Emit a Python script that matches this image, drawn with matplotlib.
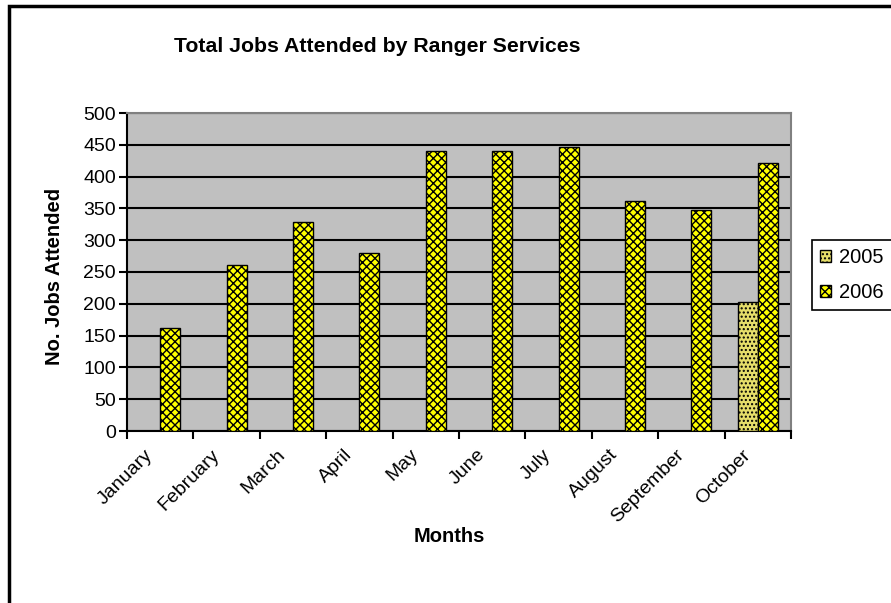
import numpy as np
import matplotlib
matplotlib.use("Agg")
import matplotlib.pyplot as plt
import matplotlib.transforms as mtransforms
from matplotlib.patches import Rectangle, Patch

plt.rcParams['font.family'] = ['Liberation Sans', 'DejaVu Sans']
plt.rcParams['hatch.linewidth'] = 1.0

# datos
months = ['January', 'February', 'March', 'April', 'May', 'June',
          'July', 'August', 'September', 'October']
jobs_2005 = [np.nan, np.nan, np.nan, np.nan, np.nan, np.nan,
             np.nan, np.nan, np.nan, 203]
jobs_2006 = [162, 261, 329, 280, 440, 440, 447, 362, 347, 421]
yticks = list(range(0, 501, 50))

fig = plt.figure(figsize=(8.91, 6.03), dpi=100)
ax = fig.add_axes([127/891, 1-431/603, (791-127)/891, (431-113)/603])
ax.set_facecolor('#C0C0C0')

x = np.arange(len(months))
w = 0.30
b1 = ax.bar(x - w/2, jobs_2005, w, facecolor='#E6DE6A', edgecolor='black',
            hatch='....', linewidth=1, zorder=3)
b2 = ax.bar(x + w/2, jobs_2006, w, facecolor='#FFFF00', edgecolor='black',
            hatch='xxxx', linewidth=1, zorder=3)

ax.set_ylim(0, 500)
ax.set_xlim(-0.5, len(months) - 0.5)
ax.set_yticks(yticks)
ax.yaxis.grid(True, color='black', linewidth=1.5, zorder=1)
ax.set_axisbelow(True)

# ticks en los limites de categoria, etiquetas en el centro
ax.set_xticks(np.arange(-0.5, len(months)), [''] * (len(months) + 1))
ax.set_xticks(x, months, minor=True, rotation=45, ha='right',
              rotation_mode='anchor', fontsize=14)
ax.tick_params(axis='x', which='minor', length=0, pad=11)
ax.tick_params(axis='x', which='major', length=6, width=1.5, direction='out')
ax.tick_params(axis='y', length=6, width=1.5, labelsize=14, pad=2)

# mover etiquetas un poco a la izquierda
shift = mtransforms.ScaledTranslation(-0.16, 0, fig.dpi_scale_trans)
for lbl in ax.get_xticklabels(minor=True):
    lbl.set_transform(lbl.get_transform() + shift)

for s in ['top', 'right']:
    ax.spines[s].set_color('#808080')
    ax.spines[s].set_linewidth(1.5)
for s in ['left', 'bottom']:
    ax.spines[s].set_linewidth(1.5)

fig.text(377/891, 1-46/603, 'Total Jobs Attended by Ranger Services',
         ha='center', va='center', fontsize=15.3, fontweight='bold')
fig.text(449/891, 1-537/603, 'Months', ha='center', va='center',
         fontsize=14.5, fontweight='bold')
fig.text(55/891, 1-276/603, 'No. Jobs Attended', ha='center', va='center',
         rotation=90, fontsize=14.5, fontweight='bold')

handles = [Patch(facecolor='#E6DE6A', edgecolor='black', hatch='....'),
           Patch(facecolor='#FFFF00', edgecolor='black', hatch='xxxx')]
leg = fig.legend(handles, ['2005', '2006'], loc='upper left',
                 bbox_to_anchor=(812/891, 1-240/603), fontsize=14.5,
                 fancybox=False, edgecolor='black', framealpha=1,
                 handlelength=0.55, handleheight=0.55, labelspacing=0.8,
                 borderpad=0.4, handletextpad=0.4, borderaxespad=0)
leg.get_frame().set_linewidth(1.2)

fig.patches.append(Rectangle((9/891, -0.1), 1.2, 1.1 - 6/603,
                             transform=fig.transFigure, fill=False,
                             edgecolor='black', linewidth=2.5))

plt.savefig('out.png', dpi=100)
